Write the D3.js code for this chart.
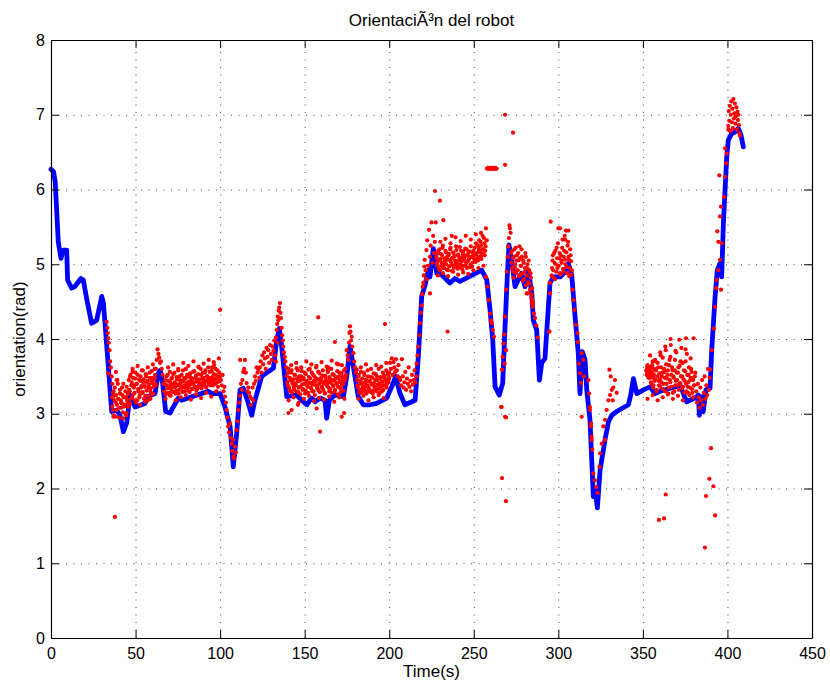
<!DOCTYPE html>
<html>
<head>
<meta charset="utf-8">
<script src="https://cdn.jsdelivr.net/npm/d3@7"></script>
<style>
  html, body { margin: 0; padding: 0; background: #fff; }
  svg text { font-family: "Liberation Sans", Arial, Helvetica, sans-serif; fill: #000; }
</style>
</head>
<body>
<svg id="chart" width="830" height="686"></svg>
<script>
// ---------- DATA ----------
const titleText = "OrientaciÃ³n del robot";
const xLabelText = "Time(s)";
const yLabelText = "orientation(rad)";
const xTicks = [0, 50, 100, 150, 200, 250, 300, 350, 400, 450];
const yTicks = [0, 1, 2, 3, 4, 5, 6, 7, 8];

// Blue line (filtered orientation): [time, value]
const blueLine = [
  [0,6.27],[1.5,6.24],[2.5,6.1],[4.3,5.30],[5.9,5.08],[7.3,5.19],[9.3,5.19],[9.8,4.79],[12.2,4.68],[14,4.70],
  [17.7,4.81],[19.1,4.79],[21,4.55],[24,4.21],[27,4.25],[30,4.57],[31,4.48],[33.9,3.63],[35.9,3.03],[38.8,3.05],
  [40.8,2.98],[42.8,2.76],[44.8,2.88],[46.7,3.25],[49.7,3.09],[53.6,3.12],[55.6,3.14],[57.5,3.23],[61.5,3.27],[63.5,3.54],
  [64.5,3.58],[65.8,3.45],[67.8,3.03],[70.4,3.01],[72.3,3.09],[75.3,3.21],[77.3,3.18],[81.2,3.21],[93,3.30],[95,3.27],
  [100,3.27],[102.9,3.09],[105.9,2.83],[107.8,2.29],[109.8,2.74],[111.8,3.32],[113.7,3.34],[116.7,3.14],[118.7,2.98],[120.6,3.18],
  [124.6,3.50],[131.5,3.61],[133.5,3.99],[135,4.14],[136.4,3.90],[139.4,3.23],[145.3,3.25],[148.3,3.18],[151.2,3.12],[154.2,3.21],
  [156.1,3.16],[159.1,3.21],[162,3.18],[163,2.94],[164.6,3.18],[167.9,3.25],[172.9,3.23],[174.9,3.50],[176.8,3.90],[178.8,3.63],
  [181.7,3.23],[184.7,3.12],[188.6,3.12],[192.6,3.14],[198.5,3.21],[201.5,3.36],[203.8,3.50],[206.4,3.27],[209.3,3.12],[213.3,3.16],
  [215.3,3.18],[217.2,3.76],[219.2,4.57],[221.2,4.72],[223.1,4.92],[224.1,4.83],[226.1,5.21],[228.1,4.88],[231,4.86],[235.9,4.75],
  [238.9,4.81],[241.9,4.77],[254.7,4.92],[257.7,4.79],[259.6,4.39],[261.2,3.99],[262.6,3.36],[265.1,3.25],[267.1,3.41],[268.5,4.17],
  [269.8,4.83],[270.8,5.26],[272.4,5.06],[274.4,4.70],[276.3,4.79],[278.3,4.88],[280.3,4.70],[282.3,4.92],[284.3,4.61],[285.2,4.25],
  [287.2,4.12],[288.8,3.45],[290.2,3.68],[292.1,3.74],[294.1,4.43],[295.1,4.75],[297.1,4.83],[301,4.83],[304,4.90],[305.9,5.01],
  [307.9,4.86],[309.9,4.30],[311.8,3.81],[312.8,3.27],[314.2,3.83],[315.8,3.72],[316.8,3.32],[318.7,2.92],[320.7,1.89],[321.7,2.00],
  [323.1,1.74],[324.7,2.25],[327.6,2.65],[329.6,2.89],[331.6,2.98],[334.5,3.03],[341.4,3.12],[342.8,3.25],[344.4,3.47],[346.4,3.27],
  [350.3,3.32],[354.2,3.36],[357.2,3.27],[360.2,3.30],[372,3.38],[375.9,3.16],[380.8,3.21],[382.8,3.25],[383.4,2.98],[384.8,3.23],
  [385.7,3.03],[387.3,3.32],[389.7,3.34],[390.7,3.85],[392.7,4.57],[394,4.92],[395.6,5.01],[396.6,4.83],[397.6,5.55],[399.6,6.44],
  [400.5,6.66],[402.5,6.75],[404.5,6.77],[406.4,6.82],[408,6.73],[409.4,6.57]
];

// Red measured points, regularly sampled bands
const redBand1 = [3.22,3.05,3.30,3.18,2.96,3.25,3.12,3.40,3.20,3.08,3.27,3.15,3.35,3.02,3.22,3.10,3.30,2.98,3.18,3.26,3.12];
const redBand1b = [3.10,3.28,2.98,3.35,3.15,3.05,3.45,3.20,2.95,3.32,3.18,3.08,3.25,3.40,3.12,3.00,3.22,3.36,3.14,3.28];
const redBand2 = [3.45,3.30,3.52,3.38,3.22,3.48,3.35,3.28,3.55,3.40,3.18,3.33,3.46,3.25,3.50,3.37,3.29,3.42,3.20,3.36,3.53,3.31,3.44,3.24,3.39,3.48,3.34,3.57,3.41,3.27,3.46,3.52,3.38];
const redBand2b = [3.32,3.50,3.20,3.42,3.56,3.26,3.38,3.47,3.15,3.40,3.52,3.30,3.22,3.44,3.35,3.58,3.28,3.46,3.38,3.24,3.50,3.42,3.18,3.35,3.55,3.30,3.44,3.26,3.48,3.36,3.60,3.40];
const redBand2c = [3.14,3.60,3.18,3.64,3.12,3.58,3.16,3.62,3.20,3.66];
const redBand3 = [3.48,3.60,3.72,3.86,3.80,3.75,3.68,3.70,3.60,3.52,3.40];
const redBand4 = [3.30,3.45,3.28,3.38,3.52,3.35,3.25,3.42,3.33,3.48,3.29,3.40,3.55,3.36,3.31,3.46,3.38,3.27,3.50,3.41,3.34,3.44,3.58,3.37,3.30,3.47,3.39,3.52,3.35,3.43,3.29,3.49,3.40,3.33,3.56,3.42,3.36,3.48,3.31,3.45,3.53,3.38,3.41,3.60,3.34,3.47,3.43,3.39,3.55,3.44,3.36,3.50,3.62,3.41,3.46,3.38,3.57,3.49,3.44,3.65,3.40,3.52,3.47,3.58,3.43,3.55,3.50];
const redBand4b = [3.40,3.26,3.50,3.34,3.44,3.28,3.56,3.38,3.47,3.30,3.53,3.36,3.42,3.27,3.49,3.39,3.58,3.32,3.45,3.37,3.52,3.29,3.43,3.48,3.35,3.60,3.41,3.31,3.50,3.38,3.54,3.44,3.33,3.47,3.40,3.57,3.36,3.51,3.43,3.34,3.62,3.46,3.39,3.52,3.37,3.55,3.48,3.41,3.58,3.35,3.50,3.45,3.40,3.56,3.48,3.42,3.62,3.38,3.53,3.46,3.60,3.41,3.50,3.36,3.48,3.44];
const redBand4c = [3.20,3.62,3.24,3.66,3.18,3.60,3.22,3.68,3.25,3.64,3.19,3.70,3.26,3.63,3.21,3.67,3.28,3.72,3.23,3.69,3.30,3.74];
const redBand5 = [3.62,3.70,3.55,3.78,3.66,3.82,3.74,3.60,3.88,3.76,3.85,3.68,3.92,3.80,3.72,3.90,3.84,3.98,3.78,4.02];
const redBand6 = [3.50,3.38,3.60,3.32,3.45,3.55,3.28,3.42,3.36,3.52,3.40,3.30,3.47,3.58,3.35,3.44,3.26,3.50,3.39,3.33,3.46,3.55,3.31,3.42,3.37,3.28,3.49,3.60,3.35,3.41,3.30,3.52,3.44,3.25,3.38,3.47,3.34,3.56,3.40,3.29,3.45,3.36,3.51,3.32,3.43,3.27,3.48,3.39,3.58,3.35,3.30,3.46,3.41,3.28,3.53,3.37,3.44,3.32,3.49,3.40,3.26,3.47,3.55,3.34,3.42,3.38,3.50,3.31,3.45,3.60,3.52];
const redBand6b = [3.42,3.55,3.35,3.48,3.30,3.58,3.40,3.46,3.33,3.52,3.38,3.61,3.43,3.29,3.50,3.36,3.45,3.57,3.32,3.48,3.40,3.27,3.53,3.44,3.36,3.59,3.41,3.47,3.34,3.55,3.39,3.30,3.50,3.43,3.62,3.37,3.46,3.31,3.54,3.42,3.48,3.35,3.58,3.40,3.28,3.51,3.44,3.37,3.56,3.42,3.49,3.33,3.60,3.45,3.38,3.52,3.30,3.47,3.41,3.57,3.36,3.50,3.43,3.29,3.54,3.46,3.39,3.58,3.44,3.48];
const redBand6c = [3.18,3.65,3.22,3.68,3.15,3.62,3.20,3.70,3.24,3.66,3.17,3.64,3.21,3.69,3.19,3.63,3.23,3.71,3.16,3.67,3.22,3.65,3.20];
const redBand7 = [3.45,3.35,3.52,3.30,3.40,3.28,3.47,3.36,3.55,3.32,3.42,3.27,3.38,3.50,3.33,3.44,3.29,3.39,3.48,3.31,3.41,3.36,3.53,3.30,3.45,3.34,3.40,3.28,3.49,3.37,3.43,3.32,3.51,3.38,3.46,3.35,3.55,3.42,3.48];
const redBand7b = [3.38,3.50,3.28,3.44,3.56,3.33,3.41,3.30,3.52,3.37,3.46,3.29,3.58,3.35,3.43,3.31,3.49,3.40,3.27,3.54,3.36,3.45,3.32,3.50,3.39,3.60,3.34,3.47,3.42,3.30,3.55,3.38,3.48,3.44,3.58,3.40,3.52,3.46];
const redBand7c = [3.20,3.62,3.24,3.66,3.18,3.60,3.22,3.65,3.25,3.63,3.21,3.68];
const redBand8 = [3.55,3.68,3.60,3.74,3.52,3.69,3.62,3.56,3.73,3.58,3.50,3.65,3.48];
const redBand9 = [3.45,3.38,3.73,3.50,3.35,3.42,3.56,3.32,3.47,3.40,3.62,3.36,3.44,3.30,3.52,3.39,3.45,3.58,3.42,3.50];
const redBand10 = [5.06,4.92,5.19,5.32,4.98,5.46,5.10,5.25,5.56,5.02,5.38,5.15,5.30,5.56,5.08];
const redBand11 = [5.10,4.98,5.18,5.05,4.92,5.14,5.02,5.22,4.95,5.08,5.00,5.16,4.93,5.06,5.12,4.97,5.20,5.03,4.91,5.09,5.15,4.99,5.05,5.24,5.01,4.94,5.11,5.07,4.96,5.18,5.04,5.13,4.98,5.09,5.21,5.02,4.95,5.12,5.06,5.17,5.00,5.10,4.97,5.15,5.08,5.22,5.03,5.13,5.26,5.05,5.18,5.10,5.30,5.07,5.20,5.14,5.35,5.12,5.24];
const redBand11b = [5.02,5.15,4.94,5.20,5.07,4.98,5.12,5.25,4.96,5.04,5.18,5.00,5.10,4.92,5.14,5.06,5.22,4.99,5.08,5.16,4.95,5.11,5.03,5.19,4.97,5.13,5.05,5.23,5.00,5.09,4.93,5.17,5.06,5.12,4.98,5.20,5.04,5.15,5.08,4.96,5.24,5.10,5.02,5.18,5.12,5.05,5.28,5.15,5.08,5.22,5.32,5.16,5.25,5.12,5.38,5.20,5.28,5.18];
const redBand11c = [4.85,5.30,4.88,5.34,4.84,5.28,4.90,5.36,4.86,5.31,4.89,5.38,4.87,5.33,4.92,5.40,4.95,5.42,4.98];
const redBand12 = [5.15,4.95,5.08,4.82,5.20,5.00,4.88,5.12,4.92,5.05,5.24,4.85,4.98,5.10,4.78,5.02,4.90,5.15,4.72,4.95,4.61,5.05,4.74,4.88,4.55,4.68,4.48];
const redBand12b = [5.02,5.18,4.90,5.10,4.96,5.22,5.05,4.92,5.15,4.84,5.08,4.98,5.20,4.88,5.05,4.80,4.95,5.10,4.85,5.00,4.76,4.92,4.66,4.82,4.60,4.52];
const redBand13 = [4.85,5.05,4.92,5.15,4.80,5.00,5.22,4.95,5.48,5.08,4.88,5.12,5.02,5.33,4.90,5.18,5.06,5.45,4.96,5.25,5.10,4.84,5.20,5.04,4.92];
const redBand13b = [4.95,5.12,4.82,5.02,5.18,4.90,5.08,5.28,4.98,5.15,4.86,5.05,5.22,4.94,5.10,5.38,5.00,5.16,4.88,5.30,5.06,4.95,5.12,4.86];
const redBand14 = [3.58,3.62,3.55,3.60,3.48,3.57,3.40,3.65,3.35,3.52,3.44,3.70,3.30,3.50,3.62,3.38,3.46,3.78,3.42,3.55,3.33,3.60,3.48,3.85,3.40,3.52,3.27,3.65,3.45,3.92,3.36,3.58,3.50,3.30,3.72,3.44,3.55,3.38,3.62,3.99,3.41,3.50,3.34,3.68,3.46,3.28,3.57,3.40,3.80,3.36,3.52,3.25,3.45,3.60,3.33,3.48,4.01,3.38,3.55];
const redBand14b = [3.52,3.65,3.48,3.56,3.62,3.42,3.55,3.70,3.38,3.60,3.46,3.58,3.32,3.68,3.44,3.54,3.36,3.62,3.50,3.75,3.40,3.56,3.30,3.66,3.47,3.58,3.35,3.72,3.42,3.52,3.62,3.28,3.48,3.58,3.38,3.82,3.45,3.55,3.32,3.64,3.40,3.88,3.50,3.36,3.58,3.44,3.70,3.30,3.52,3.42,3.62,3.35,3.48,3.56,3.28,3.45,3.38,3.50];
const redBand14c = [3.20,3.78,3.25,3.72,3.18,3.82,3.22,3.90,3.26,3.76,3.20,3.84,3.24,3.70,3.18,3.86,3.28,3.74,3.22];
const redBand15 = [3.30,3.15,3.40,3.22,3.08,3.35,3.18,3.45,3.12,3.28,3.50,3.20,3.38,3.25,3.60,3.32,3.48];
const redWrapLine = [6.28,6.28,6.29,6.28,6.28,6.29,6.28,6.28,6.28,6.29,6.28,6.28,6.29,6.28,6.28,6.28,6.29,6.28,6.28,6.28];
const redBand16 = [6.85,7.05,6.92,7.12,6.78,7.00,7.18,6.90,7.08,6.82,7.21,6.95,7.02,7.15,6.88,6.98,7.10,6.80,7.04,6.93,7.00,6.86,6.75,6.72];

// band start times and sampling steps (s), in the same order as the list of bands below
const redBandStarts = [36, 36.25, 46, 46.25, 46.75, 61.5, 67, 67.25, 67.75, 123.5, 139.5, 139.75, 140.5, 181, 181.25, 181.75,
  200, 206.5, 221, 228, 228.25, 228.75, 272, 272.25, 296, 296.25, 352, 352.25, 352.75, 381.5, 257.8, 400.5];
const redBandSteps  = [0.5, 0.5, 0.5, 0.5, 1.5, 0.5, 0.5, 0.5, 1.5, 0.5, 0.5, 0.5, 1.5, 0.5, 0.5, 1.5,
  0.5, 0.5, 0.5, 0.5, 0.5, 1.5, 0.5, 0.5, 0.5, 0.5, 0.5, 0.5, 1.5, 0.5, 0.3, 0.3];

// Red points on steep parts and outliers: [time, value]
const redTrack = [
  [32.9,4.23],[33.3,4.15],[33.6,4.08],[33.9,4.01],[34.2,3.95],[34.6,3.85],[33.9,3.54],[35.0,3.70],[35.4,3.62],[35.9,3.50],
  [36.3,3.40],[36.9,3.23],[36.9,2.96],[38.4,3.56],[38.8,3.45],[40.8,3.27],[41.8,3.14],[42.8,2.94],[44.8,3.01],[45.7,3.09],
  [100.5,3.45],[101,3.38],[101.5,3.52],[102,3.30],[102.5,3.36],[102.9,3.23],[103.4,3.15],[103.9,3.05],[104.3,2.95],[104.8,2.83],
  [105.3,2.75],[105.9,2.87],[106.3,2.68],[106.8,2.60],[107.2,2.50],[107.8,2.43],[107.8,2.65],[108.3,2.40],[108.8,2.56],[109.3,2.48],
  [109.8,2.78],[110.3,2.90],[110.8,3.05],[111.3,3.15],[111.8,3.24],[111.8,3.72],[112.3,3.40],[112.8,3.32],[113.2,3.45],[113.7,3.56],
  [114.2,3.60],[114.7,3.72],[115.2,3.55],[115.7,3.41],[116.2,3.30],[116.7,3.35],[117.2,3.28],[117.7,3.23],[118.2,3.12],[118.7,3.20],
  [119.2,3.35],[119.6,3.18],[120.1,3.40],[120.6,3.50],[121.1,3.44],[121.6,3.62],[122.1,3.55],[122.6,3.59],[123.1,3.48],
  [133,3.70],[133.5,4.12],[133.8,4.20],[134,3.95],[134.1,4.30],[134.4,4.25],[134.7,4.38],[135,4.42],[135.4,4.48],[135.7,4.35],
  [136,4.28],[136.4,4.15],[136.7,4.05],[137,3.98],[137.4,3.90],[137.8,3.82],[138.2,3.76],[138.6,3.70],[139,3.62],
  [140.4,3.01],[142.3,3.05],[146,3.12],[157.1,3.07],[159.1,2.76],[171.9,2.96],[173.3,3.01],[158,4.29],[167.9,3.96],[164,3.62],[170,3.66],
  [174.9,3.85],[175.4,3.78],[175.8,3.72],[176.2,3.95],[176.5,4.08],[176.8,4.17],[177.1,4.10],[177.4,3.98],[177.8,4.03],[178.2,3.90],
  [178.8,3.81],[179.3,3.70],[179.8,3.62],[180.3,3.55],[180.8,3.59],[197.5,4.20],
  [216.2,3.67],[216.7,3.78],[217.2,3.90],[217.7,4.05],[218.2,4.21],[218.7,4.35],[219.2,4.45],[219.5,4.60],[219.8,4.70],[220.2,4.75],
  [220.5,4.85],[220.8,4.97],[222,4.80],[224.1,4.61],[227.1,5.98],[230,5.85],[232,5.59],[237,5.38],[234.5,4.10],
  [257.2,5.48],[257.7,5.32],[257.2,4.83],[258,4.70],[258.8,4.52],[259.6,4.34],[260.1,4.25],[260.6,4.21],[261.3,4.12],[262,4.03],
  [268.5,6.33],[268.5,7.00],[273.2,6.76],
  [266.1,3.09],[266.5,3.09],[266.7,2.14],[269,1.83],[268.5,2.96],[269.1,2.95],[266.7,3.59],[267.1,3.76],[267.5,3.94],[268,4.06],
  [268.3,3.67],[268.5,4.30],[269.1,4.66],[269.1,3.85],[269.5,4.90],[270,5.10],[270.4,5.24],[270.8,5.35],[271.1,5.52],[271.4,5.48],[271.8,5.42],
  [281.3,4.61],[282.5,4.74],[284.2,4.48],[284.9,4.43],[285.6,4.34],[286.2,4.28],[287,4.18],[287.8,4.02],
  [294.5,4.10],[294.7,4.10],[295.1,4.61],[295.1,4.75],[295.5,5.57],[301,5.48],[304,5.33],[305.9,5.45],
  [308.5,4.66],[309,4.52],[309.5,4.39],[310.5,4.19],[311.3,4.08],[311.5,3.96],[312.2,3.67],[312.8,3.54],[313.4,3.41],[313.8,3.81],
  [314.8,3.72],[315.2,3.50],[313.8,2.96],[317.8,3.45],[318.2,3.27],[318.7,3.05],[318.7,3.09],[319.3,2.87],[319.3,2.83],[319.7,2.69],
  [319.7,2.65],[320.1,2.52],[320.7,2.20],[321.7,2.11],[322.3,2.02],[323.3,1.94],[324.3,2.29],[324.7,2.47],[325.7,2.60],[326.6,2.83],
  [327.6,2.92],[327.6,2.65],[328.6,3.05],[329.6,3.18],[330.2,3.59],[330.6,3.25],[331,3.50],[331.6,3.32],[332.2,3.18],[332.5,3.35],
  [333.5,3.45],[334.5,3.28],
  [352.5,3.55],[353,3.60],[353.5,3.52],[354,3.57],[354.5,3.50],[355,3.62],[355.5,3.55],[356,3.48],[366.4,4.00],[375.5,4.01],
  [359.5,1.58],[362.5,1.60],[363.5,1.92],[386.7,1.21],[387.3,1.90],[389.3,2.13],[390.3,2.54],[391.7,2.03],[392.7,1.64],
  [389.7,3.59],[390.7,3.85],[392,4.14],[392.7,4.43],[393.3,4.68],[393.7,4.79],[394.6,4.92],[395.6,5.06],[396.2,4.66],[396.6,5.28],
  [394.6,5.30],[394,5.44],[395.6,5.64],[396.2,5.77],[395.2,6.19],[398,5.90],[398.6,6.17],[399.2,6.35],[399.6,6.48],[398.6,6.55],[400.5,6.80],
  [37.8,1.62],[100,4.39]
];

// ---------- CHART ----------
(function () {
  const W = 830, H = 686;
  const mLeft = 51, mRight = 812, mTop = 40, mBottom = 638;
  const svg = d3.select("#chart");
  const x = d3.scaleLinear().domain([0, 450]).range([mLeft, mRight]);
  const y = d3.scaleLinear().domain([0, 8]).range([mBottom, mTop]);

  svg.append("rect").attr("x", 0).attr("y", 0).attr("width", W).attr("height", H).attr("fill", "#fff");

  // grid
  const gridX = svg.append("g").attr("transform", `translate(0,${mBottom})`)
    .call(d3.axisBottom(x).tickValues(xTicks).tickSize(-(mBottom - mTop)).tickFormat(""));
  gridX.select(".domain").remove();
  gridX.selectAll("line").attr("stroke", "#000").attr("stroke-width", 1).attr("stroke-dasharray", "1,6.5").attr("opacity", 0.7);
  const gridY = svg.append("g").attr("transform", `translate(${mLeft},0)`)
    .call(d3.axisLeft(y).tickValues(yTicks).tickSize(-(mRight - mLeft)).tickFormat(""));
  gridY.select(".domain").remove();
  gridY.selectAll("line").attr("stroke", "#000").attr("stroke-width", 1).attr("stroke-dasharray", "1,6.5").attr("opacity", 0.7);

  // data
  const line = d3.line().x(d => x(d[0])).y(d => y(d[1]));
  svg.append("path").datum(blueLine).attr("d", line)
    .attr("fill", "none").attr("stroke", "#0000ff").attr("stroke-width", 4.8)
    .attr("stroke-linejoin", "round").attr("stroke-linecap", "round");

  const bands = [redBand1, redBand1b, redBand2, redBand2b, redBand2c, redBand3, redBand4, redBand4b, redBand4c, redBand5,
    redBand6, redBand6b, redBand6c, redBand7, redBand7b, redBand7c, redBand8, redBand9, redBand10, redBand11, redBand11b, redBand11c,
    redBand12, redBand12b, redBand13, redBand13b, redBand14, redBand14b, redBand14c, redBand15, redWrapLine, redBand16];
  const redPoints = [];
  bands.forEach((arr, bi) => {
    arr.forEach((v, i) => redPoints.push([redBandStarts[bi] + i * redBandSteps[bi], v]));
  });
  redTrack.forEach(p => redPoints.push(p));

  svg.append("g").selectAll("circle").data(redPoints).join("circle")
    .attr("cx", d => x(d[0])).attr("cy", d => y(d[1])).attr("r", 2.1)
    .attr("fill", "#ff0000");

  // axes (ticks inward on all four sides)
  const fs = "16px";
  const axB = svg.append("g").attr("transform", `translate(0,${mBottom})`)
    .call(d3.axisBottom(x).tickValues(xTicks).tickSizeInner(-8).tickSizeOuter(0).tickPadding(10));
  const axT = svg.append("g").attr("transform", `translate(0,${mTop})`)
    .call(d3.axisTop(x).tickValues(xTicks).tickSizeInner(-8).tickSizeOuter(0).tickFormat(""));
  const axL = svg.append("g").attr("transform", `translate(${mLeft},0)`)
    .call(d3.axisLeft(y).tickValues(yTicks).tickSizeInner(-8).tickSizeOuter(0).tickPadding(6));
  const axR = svg.append("g").attr("transform", `translate(${mRight},0)`)
    .call(d3.axisRight(y).tickValues(yTicks).tickSizeInner(-8).tickSizeOuter(0).tickFormat(""));
  [axB, axT, axL, axR].forEach(g => {
    g.select(".domain").attr("stroke", "#000").attr("stroke-width", 1.2);
    g.selectAll(".tick line").attr("stroke", "#000").attr("stroke-width", 1);
    g.selectAll("text").style("font-family", '"Liberation Sans", Arial, sans-serif').style("font-size", fs).attr("fill", "#000");
  });

  // titles
  svg.append("text").attr("x", (mLeft + mRight) / 2).attr("y", 26).attr("text-anchor", "middle")
    .style("font-size", "17px").text(titleText);
  svg.append("text").attr("x", (mLeft + mRight) / 2).attr("y", 677).attr("text-anchor", "middle")
    .style("font-size", "17px").text(xLabelText);
  svg.append("text").attr("transform", `translate(25,${(mTop + mBottom) / 2}) rotate(-90)`).attr("text-anchor", "middle")
    .style("font-size", "17px").text(yLabelText);
})();
</script>
</body>
</html>
